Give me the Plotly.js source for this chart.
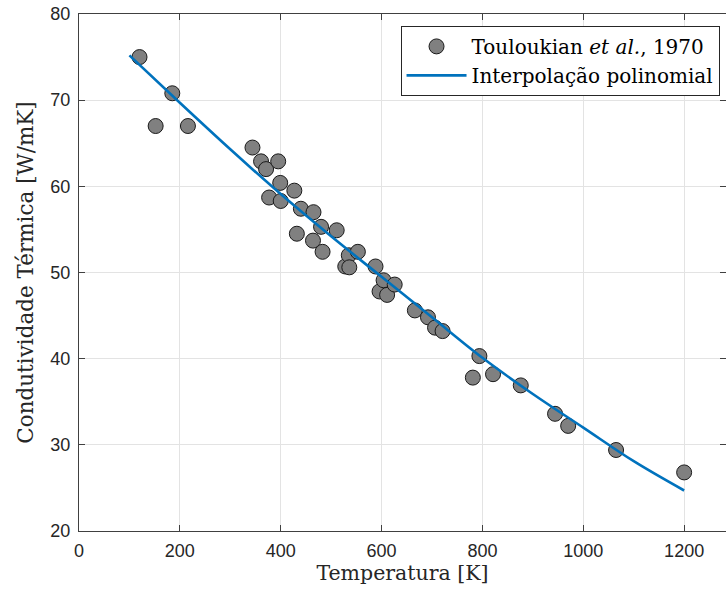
<!DOCTYPE html>
<html>
<head>
<meta charset="utf-8">
<script src="https://cdn.plot.ly/plotly-3.0.1.min.js"></script>
<style>html,body{margin:0;padding:0;background:#fff;}#chart{width:726px;height:596px;}</style>
</head>
<body>
<div id="chart"></div>
<script>
// Measured data (Touloukian et al., 1970)
const tempK = [120,152,185,216,344,361,371,377,395,399,400,427,432,440,464,465,480,483,511,528,535,536,553,588,596,604,611,626,666,692,706,721,781,794,821,876,944,970,1065,1200];
const condK = [75.0,67.0,70.8,67.0,64.5,62.9,62.0,58.7,62.9,60.4,58.3,59.5,54.5,57.4,53.7,57.0,55.3,52.4,54.9,50.7,52.0,50.6,52.4,50.7,47.8,49.1,47.4,48.6,45.6,44.8,43.6,43.2,37.8,40.3,38.2,36.9,33.6,32.2,29.4,26.8];
// Polynomial fit curve
const fitT = [100,200,300,400,500,600,700,800,900,1000,1100,1200];
const fitK = [75.2,69.7,64.3,59.1,54.2,49.5,44.8,40.1,35.9,32.0,28.1,24.7];
const xTicks = [0,200,400,600,800,1000,1200];
const yTicks = [20,30,40,50,60,70,80];

const serif = '"DejaVu Serif", "Liberation Serif", serif';
const sans = '"Liberation Sans", Arial, sans-serif';

const traces = [
  {x: tempK, y: condK, mode: 'markers', type: 'scatter',
   name: 'Touloukian <i>et al.</i>, 1970',
   marker: {size: 15, color: '#808080', line: {color: '#1a1a1a', width: 1}}},
  {x: fitT, y: fitK, mode: 'lines', type: 'scatter', line: {shape: 'spline', color: '#0072BD', width: 2.6},
   name: 'Interpolação polinomial'}
];

const axisCommon = {
  showgrid: true, gridcolor: '#e3e3e3', gridwidth: 1,
  zeroline: false, showline: true, linecolor: '#404040', linewidth: 1,
  mirror: 'ticks', ticks: 'inside', ticklen: 6, tickcolor: '#404040',
  tickfont: {family: sans, size: 18, color: '#262626'}
};

const layout = {
  width: 726, height: 596,
  margin: {l: 79, r: 0, t: 14, b: 65, autoexpand: false},
  paper_bgcolor: '#ffffff', plot_bgcolor: '#ffffff',
  showlegend: true,
  xaxis: Object.assign({}, axisCommon, {
    range: [0, 1283], tickvals: xTicks, ticktext: xTicks.map(String),
    ticklabelstandoff: 3,
    title: {text: 'Temperatura [K]', font: {family: serif, size: 20.5, color: '#262626'}, standoff: 4}
  }),
  yaxis: Object.assign({}, axisCommon, {
    range: [20, 80], tickvals: yTicks, ticktext: yTicks.map(String),
    ticklabelstandoff: 4,
    title: {text: 'Condutividade Térmica [W/mK]', font: {family: serif, size: 21.5, color: '#262626'}, standoff: 10}
  }),
  legend: {
    x: 0.99, y: 0.977, xanchor: 'right', yanchor: 'top',
    bgcolor: '#ffffff', bordercolor: '#262626', borderwidth: 1,
    font: {family: serif, size: 20, color: '#000'},
    itemwidth: 60, tracegroupgap: 0
  }
};

Plotly.newPlot('chart', traces, layout, {displayModeBar: false, staticPlot: true});
</script>
</body>
</html>
